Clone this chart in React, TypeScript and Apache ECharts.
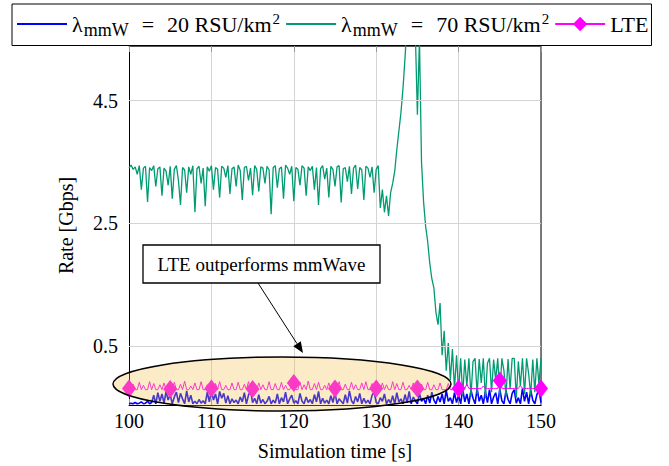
import React, { useEffect, useRef } from "react";
import * as echarts from "echarts";

// ---- data ----
const timeStart = 100;
const timeStep = 0.25;
const xMin = 100;
const xMax = 150;
const xInterval = 10;
const yMin = -0.46;
const yMax = 5.39;
const yTickValues = [0.5, 2.5, 4.5];

const seriesNames = ["λmmW = 20 RSU/km²", "λmmW = 70 RSU/km²", "LTE"];

// mmWave, 20 RSU/km^2 (blue)
const rate20 = [
  -0.44, -0.43, -0.44, -0.42, -0.44, -0.43, -0.41, -0.44, -0.43, -0.4, -0.44, -0.42, -0.3, -0.44, -0.26, -0.4,
  -0.28, -0.43, -0.24, -0.38, -0.29, -0.44, -0.33, -0.25, -0.42, -0.27, -0.36, -0.44, -0.23, -0.41, -0.3, -0.44,
  -0.4, -0.44, -0.37, -0.43, -0.39, -0.44, -0.25, -0.41, -0.22, -0.38, -0.28, -0.44, -0.24, -0.35, -0.27, -0.43,
  -0.31, -0.44, -0.36, -0.42, -0.38, -0.44, -0.33, -0.41, -0.26, -0.44, -0.3, -0.23, -0.42, -0.35, -0.44, -0.29,
  -0.43, -0.37, -0.44, -0.4, -0.32, -0.44, -0.38, -0.43, -0.28, -0.44, -0.34, -0.41, -0.25, -0.44, -0.36, -0.3,
  -0.43, -0.39, -0.44, -0.27, -0.4, -0.44, -0.33, -0.42, -0.37, -0.44, -0.29, -0.41, -0.24, -0.44, -0.35, -0.43,
  -0.38, -0.44, -0.31, -0.42, -0.26, -0.44, -0.36, -0.4, -0.44, -0.29, -0.43, -0.23, -0.39, -0.44, -0.32, -0.41,
  -0.27, -0.44, -0.35, -0.43, -0.38, -0.44, -0.3, -0.25, -0.42, -0.44, -0.34, -0.4, -0.28, -0.44, -0.37, -0.43,
  -0.31, -0.44, -0.26, -0.41, -0.36, -0.44, -0.29, -0.42, -0.24, -0.44, -0.33, -0.39, -0.44, -0.27, -0.4, -0.35,
  -0.44, -0.3, -0.43, -0.25, -0.38, -0.44, -0.32, -0.41, -0.28, -0.44, -0.22, -0.4, -0.34, -0.44, -0.26, -0.42,
  -0.3,
  -0.44, -0.2, -0.41, -0.28, -0.44, -0.22, -0.35, -0.44, -0.19, -0.4, -0.3, -0.44, -0.24, -0.42, -0.21, -0.44,
  -0.33, -0.26, -0.44, -0.2, -0.39, -0.44, -0.23, -0.37, -0.44, -0.27, -0.21, -0.43, -0.34, -0.44, -0.19, -0.4,
  -0.25, -0.44, -0.22, -0.38, -0.44, -0.29, -0.21, -0.42,
];

// mmWave, 70 RSU/km^2 (green)
const rate70 = [
  3.4, 3.45, 3.38, 3.42, 3.3, 3.44, 3.05, 3.4, 3.43, 2.85, 3.41, 3.36, 3.44, 3.1, 3.39, 3.42,
  2.95, 3.4, 3.35, 3.12, 3.43, 2.9, 3.38, 3.44, 3.2, 2.8, 3.41, 3.37, 3.0, 3.42, 3.3, 3.44,
  2.68, 3.39, 3.43, 3.15, 3.4, 2.78, 3.42, 3.35, 3.44, 3.05, 3.41, 3.38, 2.92, 3.43, 3.4, 3.25,
  3.44, 2.98, 3.39, 3.42, 3.1, 3.45, 3.36, 2.88, 3.41, 3.43, 3.2, 3.4, 2.96, 3.44, 3.38, 3.02,
  3.42, 3.4, 3.15, 3.43, 3.37, 2.65, 3.41, 3.44, 3.08, 3.39, 3.42, 2.9, 3.45, 3.4, 3.3, 3.43,
  2.86, 3.41, 3.38, 3.12, 3.44, 3.4, 2.95, 3.42, 3.36, 3.43, 3.05, 3.41, 2.8, 3.39, 3.44, 3.22,
  3.4, 2.92, 3.43, 3.38, 3.1, 3.42, 3.44, 2.84, 3.39, 3.41, 3.18, 3.43, 2.98, 3.4, 3.45, 3.06,
  3.41, 3.37, 2.88, 3.43, 3.4, 3.25, 3.42, 3.0, 3.38, 3.44, 2.75, 3.05, 2.68, 2.95, 2.62, 3.0,
  3.15, 3.35, 3.7, 4.0, 4.3, 4.7, 5.2, 5.8, 5.9, 5.7, 6.0, 5.6, 4.27, 5.5, 3.5, 2.85,
  2.45, 2.2, 1.85, 1.6, 1.45, 1.05, 0.85, 1.2, 0.35, 0.75, 0.1, 0.55, -0.05, 0.45, -0.2, 0.35,
  -0.25,
  0.3, -0.3, 0.28, -0.15, 0.3, -0.32, 0.25, 0.3, -0.28, 0.29, -0.1, 0.3, -0.35, 0.22, 0.3, -0.25,
  0.28, -0.05, 0.3, -0.3, 0.3, 0.1, -0.32, 0.29, -0.2, 0.3, 0.3, -0.34, 0.25, -0.15, 0.3, -0.28,
  0.3, 0.05, -0.3, 0.28, -0.25, 0.3, -0.12, 0.3,
];

// LTE (magenta), every 20th sample carries a diamond mark
const rateLTE = [
  -0.19, -0.21, -0.12, -0.21, -0.21, -0.09, -0.21, -0.14, -0.21, -0.21, -0.08, -0.21, -0.11, -0.21, -0.21, -0.13, -0.21, -0.1, -0.21, -0.21,
  -0.2, -0.21, -0.09, -0.21, -0.21, -0.12, -0.21, -0.07, -0.21, -0.21, -0.15, -0.21, -0.1, -0.21, -0.21, -0.08, -0.21, -0.21, -0.13, -0.21,
  -0.19, -0.21, -0.11, -0.21, -0.08, -0.21, -0.21, -0.14, -0.21, -0.21, -0.1, -0.21, -0.21, -0.09, -0.21, -0.21, -0.12, -0.21, -0.08, -0.21,
  -0.2, -0.21, -0.21, -0.1, -0.21, -0.13, -0.21, -0.21, -0.08, -0.21, -0.21, -0.11, -0.21, -0.21, -0.09, -0.21, -0.14, -0.21, -0.21, -0.12,
  -0.1, -0.21, -0.21, -0.09, -0.21, -0.13, -0.21, -0.07, -0.21, -0.21, -0.11, -0.21, -0.09, -0.21, -0.21, -0.14, -0.21, -0.1, -0.21, -0.21,
  -0.19, -0.21, -0.08, -0.21, -0.21, -0.12, -0.21, -0.21, -0.09, -0.21, -0.13, -0.21, -0.21, -0.1, -0.21, -0.08, -0.21, -0.21, -0.11, -0.21,
  -0.19, -0.21, -0.21, -0.1, -0.21, -0.13, -0.21, -0.21, -0.08, -0.21, -0.11, -0.21, -0.21, -0.09, -0.21, -0.21, -0.14, -0.21, -0.1, -0.21,
  -0.19, -0.21, -0.12, -0.21, -0.21, -0.09, -0.21, -0.21, -0.13, -0.21, -0.21, -0.1, -0.21, -0.21, -0.21, -0.11, -0.21, -0.21, -0.21, -0.21,
  -0.19, -0.19, -0.19, -0.19, -0.12, -0.19, -0.19, -0.19, -0.19, -0.19, -0.19, -0.19, -0.15, -0.19, -0.19, -0.19, -0.19, -0.19, -0.19, -0.19,
  -0.06, -0.19, -0.19, -0.19, -0.19, -0.19, -0.19, -0.19, -0.19, -0.19, -0.14, -0.19, -0.19, -0.19, -0.19, -0.19, -0.19, -0.19, -0.19, -0.19,
  -0.19,
];
const markEvery = 20;

const FONT = "Liberation Serif";

const toPairs = (vals: number[]) => vals.map((v, i) => [timeStart + i * timeStep, v]);

export default function App() {
  const ref = useRef<HTMLDivElement>(null);
  useEffect(() => {
    if (!ref.current) return;
    const chart = echarts.init(ref.current, undefined, { renderer: "svg" });
    const richLegend = {
      l: { fontFamily: FONT, fontSize: 22, color: "#000", verticalAlign: "middle" },
      s: { fontFamily: FONT, fontSize: 18, color: "#000", padding: [11, 0, 0, 1], verticalAlign: "middle" },
      e: { fontFamily: FONT, fontSize: 22, color: "#000", padding: [0, 13, 0, 13], verticalAlign: "middle" },
      p: { fontFamily: FONT, fontSize: 15, color: "#000", padding: [0, 0, 11, 1], verticalAlign: "middle" },
    };
    const legendFormatter = (name: string) => {
      if (name === seriesNames[0]) return "{l|λ}{s|mmW}{e|=}{l|20 RSU/km}{p|2}";
      if (name === seriesNames[1]) return "{l|λ}{s|mmW}{e|=}{l|70 RSU/km}{p|2}";
      return "{l|" + name + "}";
    };
    const option: any = {
      animation: false,
      backgroundColor: "#fff",
      textStyle: { fontFamily: FONT },
      legend: {
        data: [
          { name: seriesNames[0], itemStyle: { opacity: 0 } },
          { name: seriesNames[1], itemStyle: { opacity: 0 } },
          { name: seriesNames[2] },
        ],
        left: 12,
        top: 4,
        padding: [7, 3, 7, 4],
        itemGap: 5,
        itemWidth: 50,
        itemHeight: 18,
        borderColor: "#000",
        borderWidth: 1,
        formatter: legendFormatter,
        textStyle: { fontFamily: FONT, fontSize: 22, color: "#000", rich: richLegend },
      },
      grid: { left: 129, right: 128, top: 46, bottom: 61, containLabel: false },
      xAxis: [
        {
          type: "value",
          min: xMin,
          max: xMax,
          interval: xInterval,
          name: "Simulation time [s]",
          nameLocation: "middle",
          nameGap: 36,
          nameTextStyle: { fontFamily: FONT, fontSize: 20, color: "#000" },
          axisLine: { show: true, onZero: false, lineStyle: { color: "#000", width: 1 } },
          axisTick: { show: true, inside: true, length: 6, lineStyle: { color: "#999" } },
          axisLabel: { fontFamily: FONT, fontSize: 20, color: "#000", margin: 6 },
          splitLine: { show: true, lineStyle: { color: "#d4d4d4", width: 1 } },
        },
        {
          type: "value",
          position: "top",
          min: xMin,
          max: xMax,
          interval: xInterval,
          axisLine: { show: true, onZero: false, lineStyle: { color: "#555", width: 1 } },
          axisTick: { show: true, inside: true, length: 6, lineStyle: { color: "#999" } },
          axisLabel: { show: false },
          splitLine: { show: false },
        },
      ],
      yAxis: [
        {
          type: "value",
          min: yMin,
          max: yMax,
          name: "Rate [Gbps]",
          nameLocation: "middle",
          nameGap: 53,
          nameRotate: 90,
          nameTextStyle: { fontFamily: FONT, fontSize: 20, color: "#000" },
          axisLine: { show: true, onZero: false, lineStyle: { color: "#000", width: 1 } },
          axisTick: { show: true, inside: true, length: 8, customValues: yTickValues, lineStyle: { color: "#999" } },
          axisLabel: {
            fontFamily: FONT,
            fontSize: 20,
            color: "#000",
            margin: 11,
            customValues: yTickValues,
            formatter: (v: number) => v.toFixed(1),
          },
          splitLine: { show: false },
        },
        {
          type: "value",
          position: "right",
          min: yMin,
          max: yMax,
          axisLine: { show: true, onZero: false, lineStyle: { color: "#555", width: 1.5 } },
          axisTick: { show: true, inside: true, length: 8, customValues: yTickValues, lineStyle: { color: "#999" } },
          axisLabel: { show: false },
          splitLine: { show: false },
        },
      ],
      series: [
        {
          name: "grid",
          type: "line",
          data: [],
          silent: true,
          z: 1,
          markLine: {
            silent: true,
            symbol: "none",
            label: { show: false },
            lineStyle: { color: "#d4d4d4", width: 1, type: "solid" },
            data: yTickValues.map((v) => ({ yAxis: v })),
          },
        },
        {
          name: seriesNames[0],
          type: "line",
          data: toPairs(rate20),
          symbol: "none",
          lineStyle: { color: "#0000ff", width: 1.6 },
          itemStyle: { color: "#0000ff" },
          z: 3,
        },
        {
          name: seriesNames[1],
          type: "line",
          data: toPairs(rate70),
          symbol: "none",
          lineStyle: { color: "#009b72", width: 1.3 },
          itemStyle: { color: "#009b72" },
          z: 4,
        },
        {
          name: seriesNames[2],
          type: "line",
          data: toPairs(rateLTE),
          symbol: "diamond",
          showSymbol: true,
          showAllSymbol: true,
          symbolSize: (_v: any, p: any) => (p && p.dataIndex % markEvery === 0 ? [14, 18] : 0),
          lineStyle: { color: "#ff00ff", width: 1 },
          itemStyle: { color: "#ff00ff" },
          z: 5,
        },
      ],
      graphic: [
        {
          type: "ellipse",
          shape: { cx: 282, cy: 384, rx: 169, ry: 27 },
          style: { fill: "rgba(245,190,70,0.3)", stroke: "#000", lineWidth: 1.5 },
          z: 10,
          silent: true,
        },
        {
          type: "rect",
          shape: { x: 143, y: 245, width: 237, height: 38 },
          style: { fill: "#fff", stroke: "#000", lineWidth: 1.3 },
          z: 11,
        },
        {
          type: "text",
          x: 261.5,
          y: 264,
          style: {
            text: "LTE outperforms mmWave",
            fontFamily: FONT,
            fontSize: 19,
            fill: "#000",
            align: "center",
            verticalAlign: "middle",
          },
          z: 12,
        },
        {
          type: "line",
          shape: { x1: 258, y1: 283, x2: 297, y2: 343.7 },
          style: { stroke: "#000", lineWidth: 1 },
          z: 11,
        },
        {
          type: "polygon",
          shape: { points: [[303, 353], [293.3, 346.2], [300.8, 341.3]] },
          style: { fill: "#000" },
          z: 11,
        },
      ],
    };
    chart.setOption(option);
    return () => chart.dispose();
  }, []);
  return (
    <div
      ref={ref}
      style={{ position: "fixed", left: 0, top: 0, width: 669, height: 466, background: "#fff" }}
    />
  );
}
